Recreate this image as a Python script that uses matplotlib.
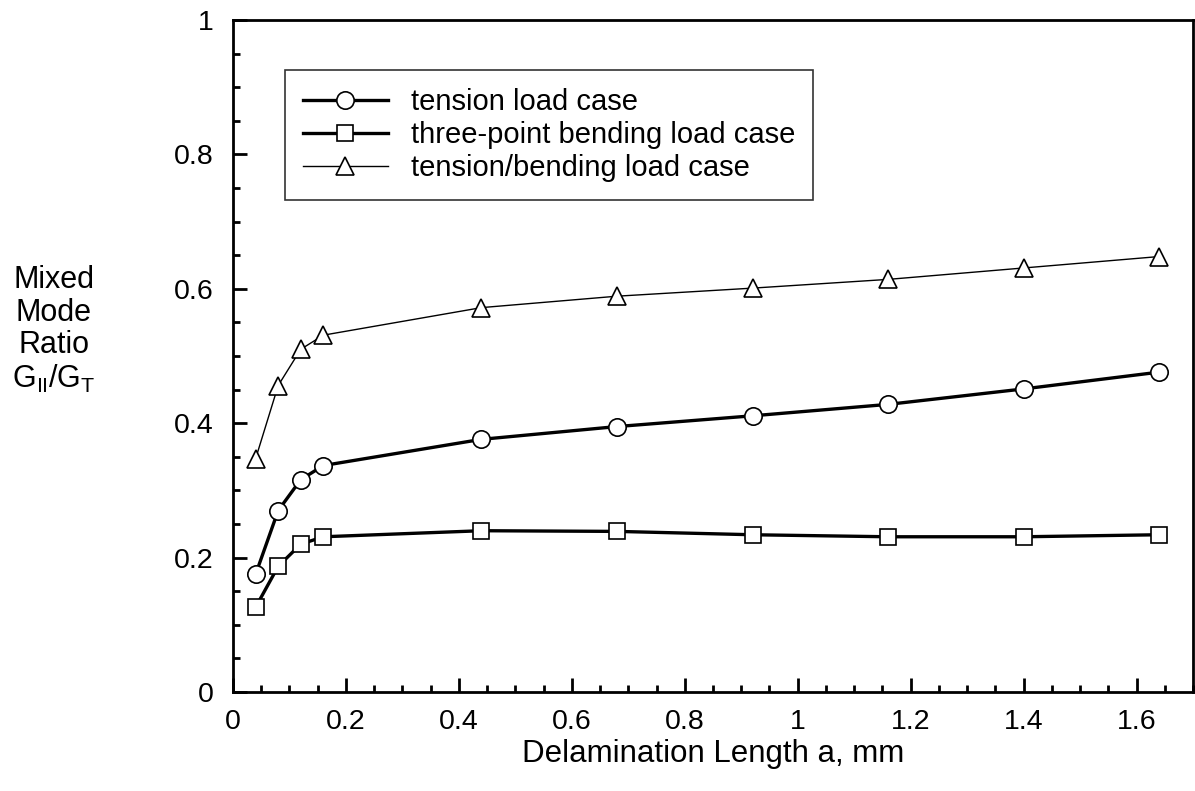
import matplotlib
matplotlib.use("Agg")
import matplotlib.pyplot as plt
from matplotlib.ticker import MultipleLocator, FuncFormatter

plt.rcParams['font.family'] = ['Liberation Sans', 'DejaVu Sans']
plt.rcParams['mathtext.fontset'] = 'custom'
plt.rcParams['mathtext.rm'] = 'Liberation Sans'
plt.rcParams['mathtext.default'] = 'regular'

# Data
a_mm = [0.04, 0.08, 0.12, 0.16, 0.44, 0.68, 0.92, 1.16, 1.40, 1.64]
tension = [0.175, 0.270, 0.316, 0.337, 0.376, 0.395, 0.411, 0.428, 0.451, 0.476]
three_point = [0.126, 0.187, 0.220, 0.231, 0.240, 0.239, 0.234, 0.231, 0.231, 0.234]
tension_bending = [0.347, 0.456, 0.510, 0.531, 0.572, 0.589, 0.601, 0.614, 0.631, 0.648]
labels = ["tension load case", "three-point bending load case", "tension/bending load case"]

fig = plt.figure(figsize=(11.95, 7.91), dpi=100)
ax = fig.add_axes([233/1195, 1-692/791, (1193-233)/1195, (692-20)/791])

ms = 12.5
ax.plot(a_mm, tension, '-', color='black', lw=2.4, marker='o', ms=ms,
        mfc='white', mec='black', mew=1.2, label=labels[0])
ax.plot(a_mm, three_point, '-', color='black', lw=2.4, marker='s', ms=ms*0.95,
        mfc='white', mec='black', mew=1.2, label=labels[1])
ax.plot(a_mm, tension_bending, '-', color='black', lw=1.0, marker='^', ms=ms,
        mfc='white', mec='black', mew=1.2, label=labels[2])

ax.set_xlim(0, 1.7)
ax.set_ylim(0, 1)
ax.xaxis.set_major_locator(MultipleLocator(0.2))
ax.xaxis.set_minor_locator(MultipleLocator(0.05))
ax.yaxis.set_major_locator(MultipleLocator(0.2))
ax.yaxis.set_minor_locator(MultipleLocator(0.05))

def fmt(v, pos):
    s = f"{v:.1f}"
    if s.endswith(".0"):
        s = s[:-2]
    return s
ax.xaxis.set_major_formatter(FuncFormatter(fmt))
ax.yaxis.set_major_formatter(FuncFormatter(fmt))

ax.tick_params(which='both', direction='in', top=False, right=False, width=2, labelsize=20.5, colors='black')
ax.tick_params(which='major', length=10, pad=12)
ax.tick_params(which='minor', length=5)
ax.tick_params(axis='y', pad=14)
for sp in ax.spines.values():
    sp.set_linewidth(2)
    sp.set_color('black')

ax.set_xlabel("Delamination Length a, mm", fontsize=22.5, labelpad=3)

fig.text(54/1195, 1-330/791, "Mixed\nMode\nRatio\nG$_{II}$/G$_T$", fontsize=22,
         ha='center', va='center', multialignment='center', linespacing=1.1)

leg = ax.legend(loc='upper left', bbox_to_anchor=((285-233)/960, (692-70)/672),
                fontsize=21, frameon=True, fancybox=False, edgecolor='black',
                handlelength=2.9, handletextpad=0.8, borderpad=0.62, labelspacing=0.17,
                borderaxespad=0)
leg.get_frame().set_linewidth(1.2)

fig.savefig("out.png", dpi=100)
